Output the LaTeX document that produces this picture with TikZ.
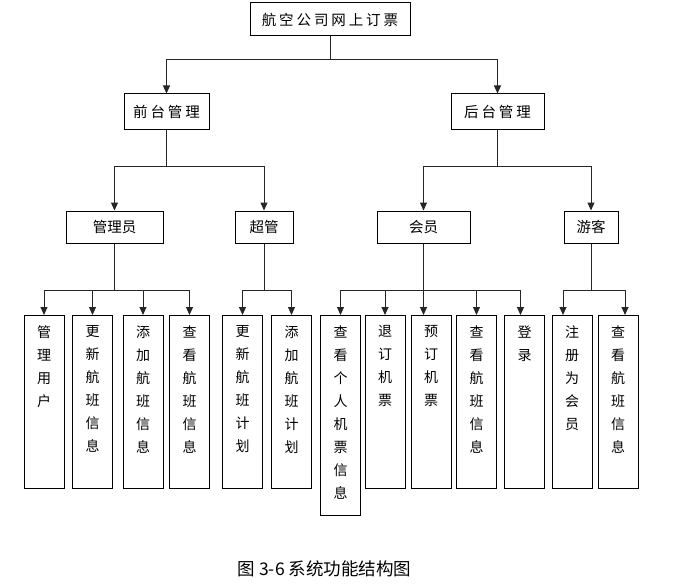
\documentclass[tikz,border=0pt]{standalone}
\usepackage{fontspec}
\setmainfont{Noto Sans CJK SC}
\newfontfamily\widecjk[LetterSpace=20]{Noto Sans CJK SC}
\usetikzlibrary{arrows.meta}
\newcommand{\vtext}[2]{\parbox[t][#1][t]{16pt}{\centering #2}}

\begin{document}
\begin{tikzpicture}[x=1pt,y=-1pt,
  unit/.style={draw,line width=1pt,inner sep=0pt,minimum height=34pt,font=\fontsize{14.5}{16}\widecjk},
  role/.style={draw,line width=1pt,inner sep=0pt,minimum height=32pt,font=\fontsize{14.5}{16}\selectfont},
  func/.style={draw,line width=1pt,anchor=north,minimum width=40pt,inner xsep=0pt,inner ysep=10pt,font=\fontsize{14}{23}\selectfont},
  link/.style={line width=1pt,black!85},
  flow/.style={-{Triangle[length=8pt,width=7pt]},line width=1pt,black!85}
]
  \useasboundingbox (0,0) rectangle (692,583);
  % top levels
  \node[unit,minimum width=160pt,minimum height=33pt] (portal) at (330,19.5) {航空公司网上订票};
  \node[unit,minimum width=85pt,minimum height=35pt] (front) at (166.5,111.5) {前台管理};
  \node[unit,minimum width=93pt,minimum height=35pt] (back) at (497.5,111.5) {后台管理};
  \node[role,minimum width=97pt] (admin) at (114.5,227) {管理员};
  \node[role,minimum width=58pt] (super) at (264,227) {超管};
  \node[role,minimum width=93pt] (member) at (423.5,227) {会员};
  \node[role,minimum width=54pt] (guest) at (591,227) {游客};
  % functions
  \node[func] (users) at (44,315) {\vtext{153pt}{管\\理\\用\\户}};
  \node[func] (editflight) at (92.5,315) {\vtext{153pt}{更\\新\\航\\班\\信\\息}};
  \node[func] (addflight) at (143,315) {\vtext{153pt}{添\\加\\航\\班\\信\\息}};
  \node[func] (viewflight) at (189.5,315) {\vtext{153pt}{查\\看\\航\\班\\信\\息}};
  \node[func] (editplan) at (242.5,315) {\vtext{153pt}{更\\新\\航\\班\\计\\划}};
  \node[func] (addplan) at (291.5,315) {\vtext{153pt}{添\\加\\航\\班\\计\\划}};
  \node[func] (mytickets) at (340.5,315) {\vtext{180pt}{查\\看\\个\\人\\机\\票\\信\\息}};
  \node[func] (refund) at (385,315) {\vtext{153pt}{退\\订\\机\\票}};
  \node[func] (book) at (431,315) {\vtext{153pt}{预\\订\\机\\票}};
  \node[func] (memberview) at (476.5,315) {\vtext{153pt}{查\\看\\航\\班\\信\\息}};
  \node[func] (login) at (524.5,315) {\vtext{153pt}{登\\录}};
  \node[func] (signup) at (572,315) {\vtext{153pt}{注\\册\\为\\会\\员}};
  \node[func] (guestview) at (618,315) {\vtext{153pt}{查\\看\\航\\班\\信\\息}};
  % junctions
  \coordinate (split) at (portal.south |- 0,60);
  \coordinate (fhub) at (front.south |- 0,166);
  \coordinate (bhub) at (back.south |- 0,166);
  \coordinate (ahub) at (admin.south |- 0,290);
  \coordinate (shub) at (super.south |- 0,290);
  \coordinate (mhub) at (member.south |- 0,290);
  \coordinate (ghub) at (guest.south |- 0,290);
  % connectors
  \draw[link] (portal.south) -- (split);
  \draw[flow] (split) -| (front.north);
  \draw[flow] (split) -| (back.north);
  \draw[link] (front.south) -- (fhub);
  \draw[flow] (fhub) -| (admin.north);
  \draw[flow] (fhub) -| (super.north);
  \draw[link] (back.south) -- (bhub);
  \draw[flow] (bhub) -| (member.north);
  \draw[flow] (bhub) -| (guest.north);
  \draw[link] (admin.south) -- (ahub);
  \draw[flow] (ahub) -| (users.north);
  \draw[flow] (ahub) -| (editflight.north);
  \draw[flow] (ahub) -| (addflight.north);
  \draw[flow] (ahub) -| (viewflight.north);
  \draw[link] (super.south) -- (shub);
  \draw[flow] (shub) -| (editplan.north);
  \draw[flow] (shub) -| (addplan.north);
  \draw[link] (member.south) -- (mhub);
  \draw[flow] (mhub) -| (mytickets.north);
  \draw[flow] (mhub) -| (refund.north);
  \draw[flow] (mhub) -- (mhub |- book.north);
  \draw[flow] (mhub) -| (memberview.north);
  \draw[flow] (mhub) -| ([xshift=-4pt]login.north);
  \draw[link] (guest.south) -- (ghub);
  \draw[flow] (ghub) -| ([xshift=-9pt]signup.north);
  \draw[flow] (ghub) -| ([xshift=7pt]guestview.north);
  % caption
  \node[font=\fontsize{17.5}{19}\selectfont] (caption) at (324.5,569) {图 3-6 系统功能结构图};
\end{tikzpicture}
\end{document}
